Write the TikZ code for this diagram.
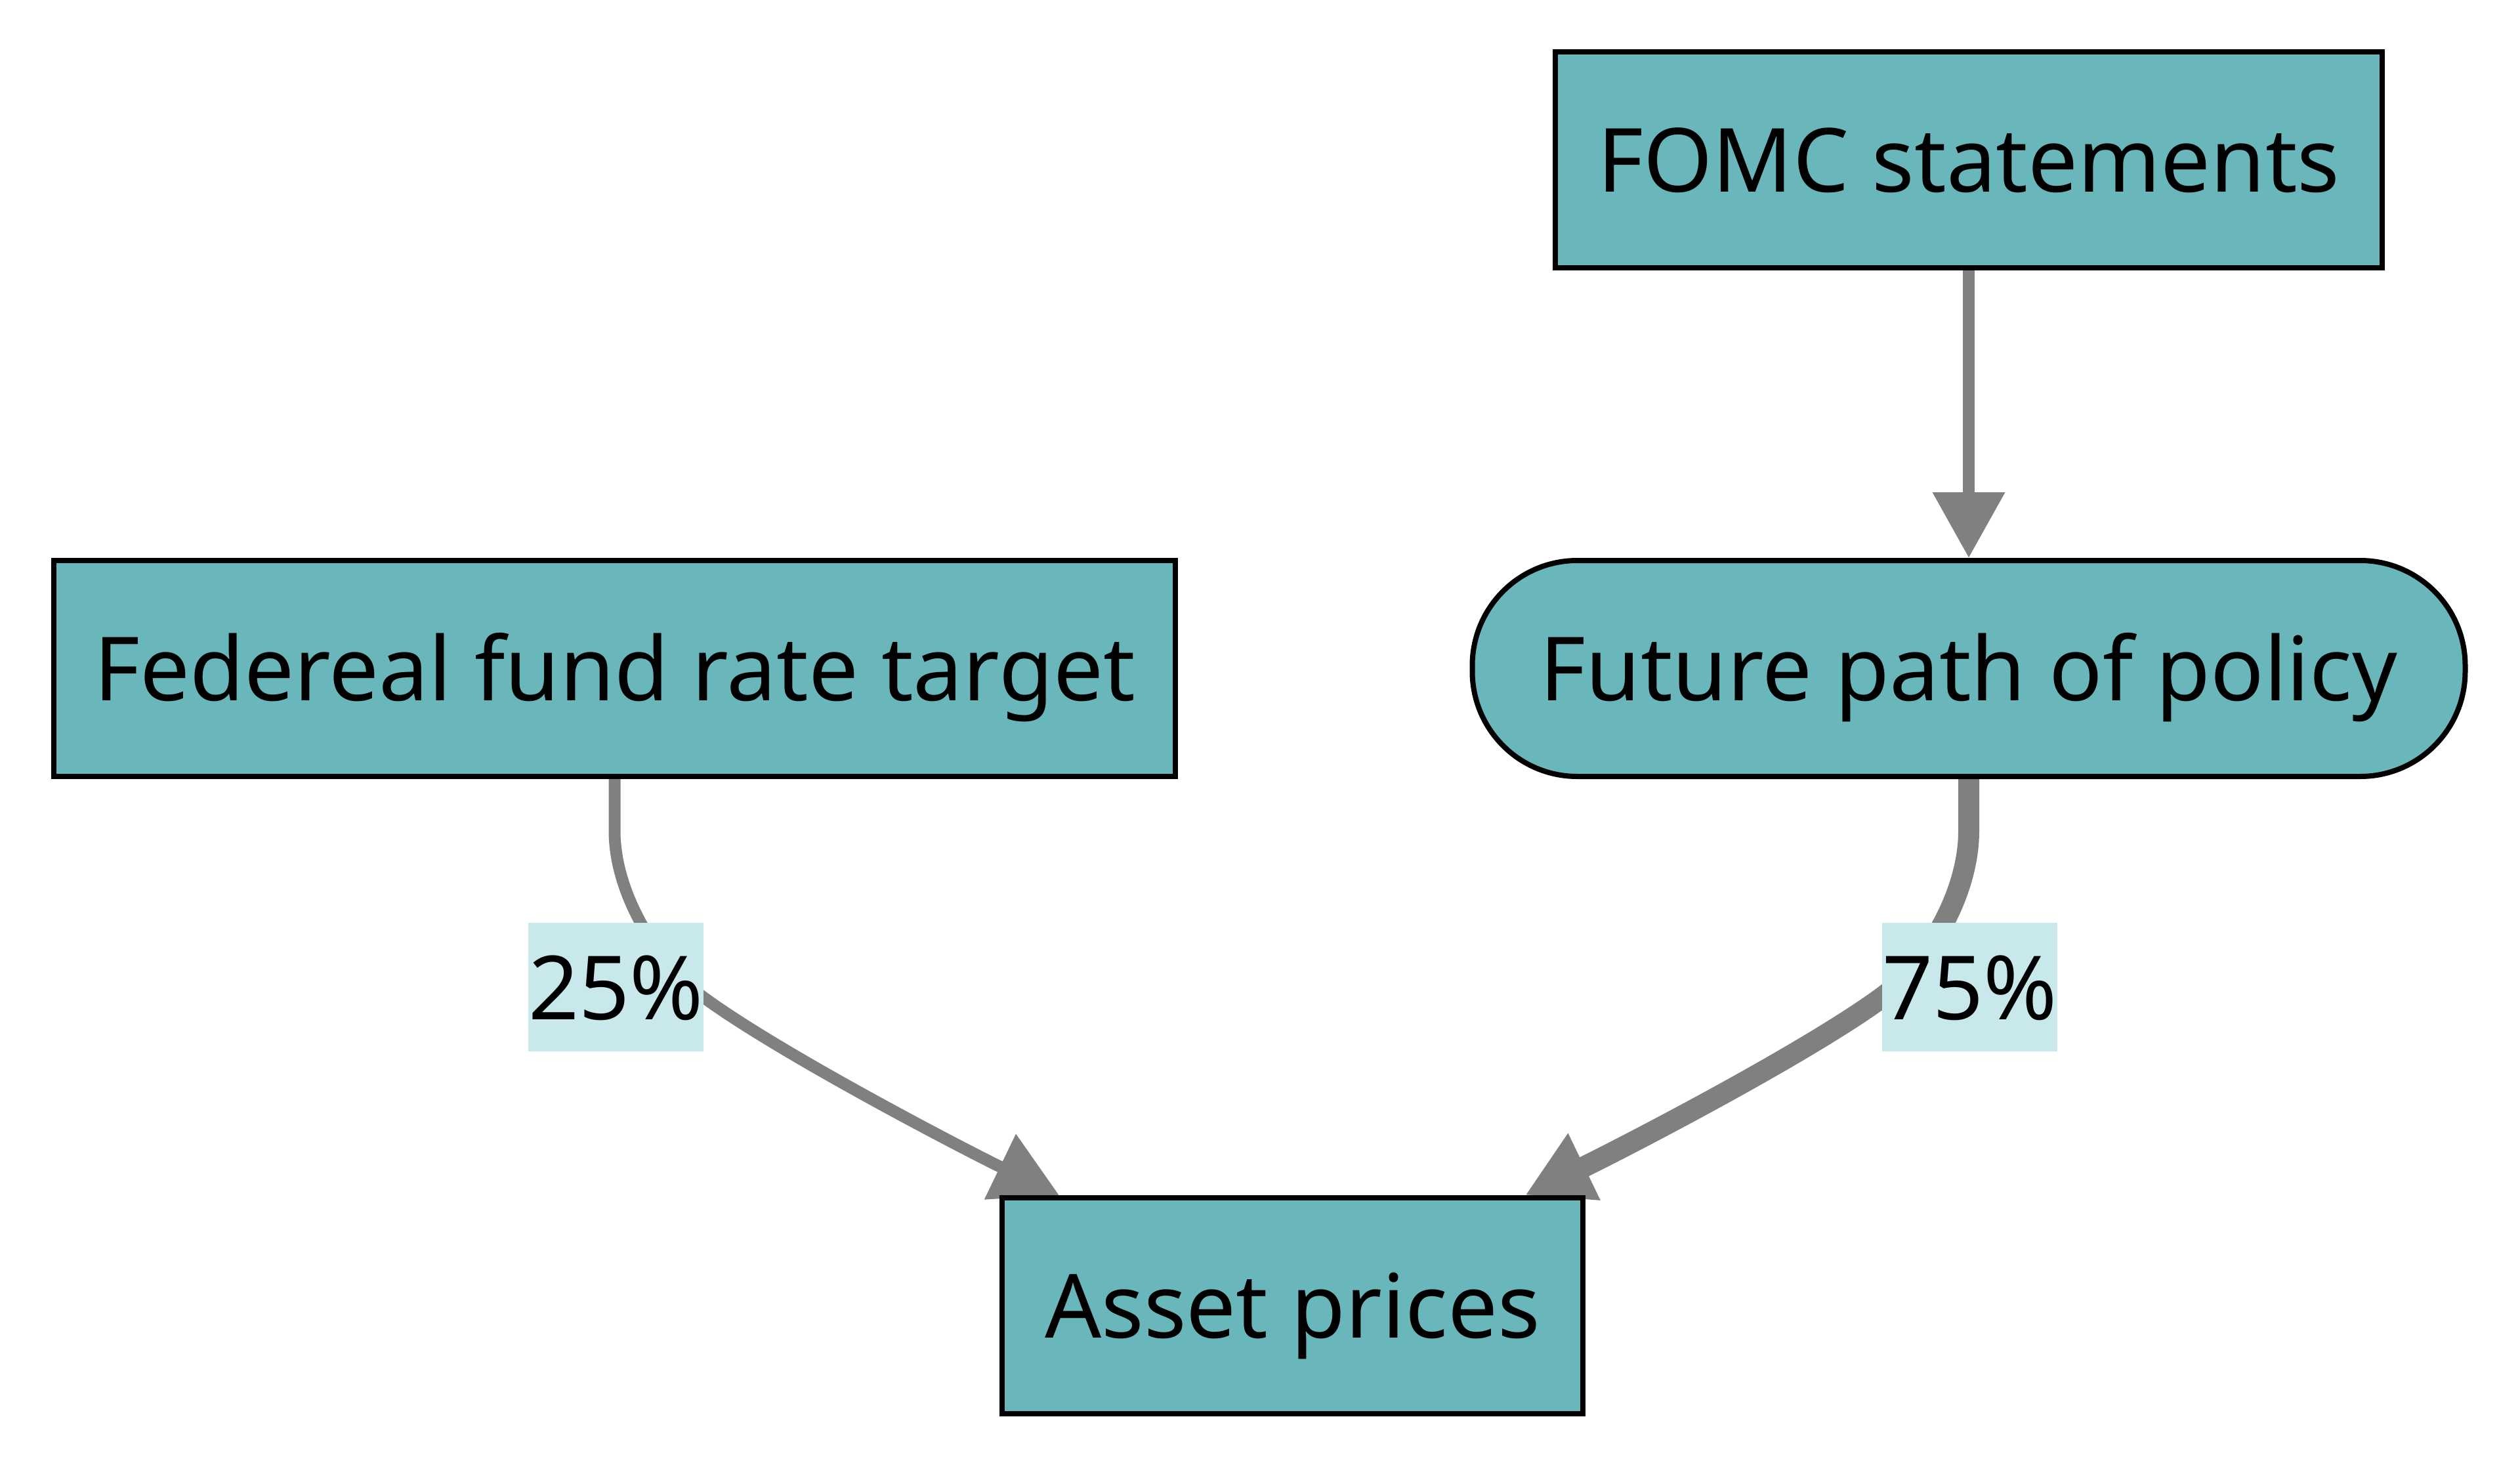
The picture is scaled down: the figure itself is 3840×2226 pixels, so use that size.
\documentclass[tikz,border=0pt]{standalone}
\usepackage{fontspec}
\setmainfont{Noto Sans}
\usetikzlibrary{arrows.meta,calc,backgrounds}
\definecolor{nodefill}{RGB}{106,183,187}
\definecolor{lblfill}{RGB}{201,232,235}
\definecolor{edgegray}{RGB}{128,128,128}
\begin{document}
\begin{tikzpicture}[x=0.1mm,y=-0.1mm,
  box/.style={draw=black, line width=0.8mm, fill=nodefill, minimum height=32.9mm,
    inner sep=0pt, text height=9.8mm, text depth=0pt, font=\fontsize{38.4}{46}\selectfont},
  lbl/.style={fill=lblfill, inner sep=0pt, minimum width=26.7mm, minimum height=19.6mm,
    text height=9.8mm, text depth=0pt, font=\fontsize{38.4}{46}\selectfont},
  edge/.style={draw=edgegray, -{Triangle[length=10mm,width=10.6mm]}},
]
\useasboundingbox (0,0) rectangle (3840,2226);
\node[box, minimum width=126mm] (fomc) at (3000,243.5) {FOMC statements};
\node[box, minimum width=151.3mm, rounded corners=16mm] (future) at (3000,1018.5) {Future path of policy};
\node[box, minimum width=170.9mm] (fed) at (936.5,1018.5) {Federeal fund rate target};
\node[box, minimum width=88.5mm] (asset) at (1969.5,1989.5) {Asset prices};
\node[lbl] (lbl1) at (938.5,1504) {25\%};
\node[lbl] (lbl2) at (3001.5,1504) {75\%};
\begin{scope}[on background layer]
\draw[edge, line width=1.77mm] (fomc.south) -- (future.north);
\draw[edge, line width=1.8mm] (fed.south) -- ++(0,79)
  .. controls +(0,100) and +(-65,-47) .. ($(lbl1.east)+(0,16)$)
  .. controls +(122,89) and +(-135,-65) .. ($(asset.north west)+(91,0)$);
\draw[edge, line width=3.2mm] (future.south) -- ++(0,79)
  .. controls +(0,100) and +(65,-47) .. ($(lbl2.west)+(0,16)$)
  .. controls +(-122,89) and +(135,-65) .. ($(asset.north east)+(-92,0)$);
\end{scope}
\end{tikzpicture}
\end{document}
